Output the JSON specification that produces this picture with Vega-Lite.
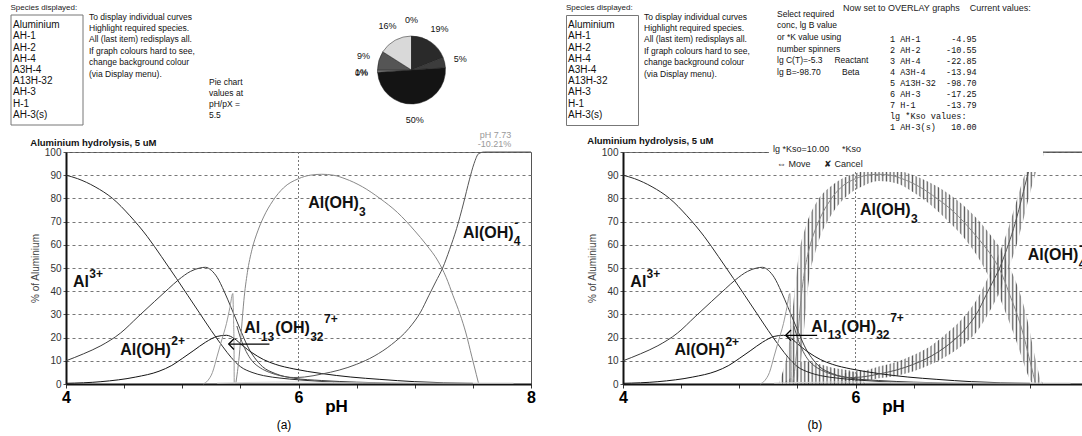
{
"$schema":"https://vega.github.io/schema/vega-lite/v6.json",
"background":"white",
"padding":{"left":10,"top":3,"right":0,"bottom":0},
"config":{"font":"Liberation Sans","view":{"stroke":null}},
"spacing":-2,
"datasets":{
"species":[{"i":0,"n":"Aluminium"},{"i":1,"n":"AH-1"},{"i":2,"n":"AH-2"},{"i":3,"n":"AH-4"},{"i":4,"n":"A3H-4"},{"i":5,"n":"A13H-32"},{"i":6,"n":"AH-3"},{"i":7,"n":"H-1"},{"i":8,"n":"AH-3(s)"}],
"vals":[{"i":0,"n":"1 AH-1\u00a0\u00a0\u00a0\u00a0\u00a0\u00a0-4.95"},{"i":1,"n":"2 AH-2\u00a0\u00a0\u00a0\u00a0\u00a0-10.55"},{"i":2,"n":"3 AH-4\u00a0\u00a0\u00a0\u00a0\u00a0-22.85"},{"i":3,"n":"4 A3H-4\u00a0\u00a0\u00a0\u00a0-13.94"},{"i":4,"n":"5 A13H-32\u00a0\u00a0-98.70"},{"i":5,"n":"6 AH-3\u00a0\u00a0\u00a0\u00a0\u00a0-17.25"},{"i":6,"n":"7 H-1\u00a0\u00a0\u00a0\u00a0\u00a0\u00a0-13.79"},{"i":7,"n":"lg *Kso values:"},{"i":8,"n":"1 AH-3(s)\u00a0\u00a0\u00a010.00"}],
"pie":[{"o":1,"k":"s19","p":19,"lab":"19%"},{"o":2,"k":"s5","p":5,"lab":"5%"},{"o":3,"k":"s50","p":50,"lab":"50%"},{"o":4,"k":"s0a","p":0,"lab":"0%"},{"o":5,"k":"s1","p":1,"lab":"1%"},{"o":6,"k":"s9","p":9,"lab":"9%"},{"o":7,"k":"s16","p":16,"lab":"16%"},{"o":8,"k":"s0b","p":0,"lab":"0%"}],
"curves":[
{"s":"al3","ph":4.0,"v":90},{"s":"al3","ph":4.1,"v":88.5},{"s":"al3","ph":4.25,"v":85},{"s":"al3","ph":4.4,"v":80},{"s":"al3","ph":4.55,"v":72.5},{"s":"al3","ph":4.7,"v":63.5},{"s":"al3","ph":4.82,"v":55},{"s":"al3","ph":4.95,"v":45.5},{"s":"al3","ph":5.05,"v":38},{"s":"al3","ph":5.15,"v":30.5},{"s":"al3","ph":5.25,"v":23},{"s":"al3","ph":5.35,"v":16},{"s":"al3","ph":5.42,"v":11.5},{"s":"al3","ph":5.5,"v":7.5},{"s":"al3","ph":5.6,"v":5},{"s":"al3","ph":5.7,"v":3.6},{"s":"al3","ph":5.85,"v":2.5},{"s":"al3","ph":6.0,"v":1.8},{"s":"al3","ph":6.3,"v":0.8},{"s":"al3","ph":6.8,"v":0.2},{"s":"al3","ph":7.5,"v":0},
{"s":"aloh","ph":4.0,"v":10},{"s":"aloh","ph":4.15,"v":13},{"s":"aloh","ph":4.3,"v":16.5},{"s":"aloh","ph":4.47,"v":22},{"s":"aloh","ph":4.62,"v":29},{"s":"aloh","ph":4.76,"v":35.5},{"s":"aloh","ph":4.88,"v":41},{"s":"aloh","ph":4.97,"v":45},{"s":"aloh","ph":5.07,"v":48.5},{"s":"aloh","ph":5.15,"v":50},{"s":"aloh","ph":5.2,"v":50.3},{"s":"aloh","ph":5.25,"v":49},{"s":"aloh","ph":5.3,"v":46},{"s":"aloh","ph":5.36,"v":40},{"s":"aloh","ph":5.42,"v":33},{"s":"aloh","ph":5.47,"v":27},{"s":"aloh","ph":5.52,"v":21},{"s":"aloh","ph":5.57,"v":15.5},{"s":"aloh","ph":5.62,"v":11.5},{"s":"aloh","ph":5.69,"v":7.5},{"s":"aloh","ph":5.8,"v":4.5},{"s":"aloh","ph":5.96,"v":2.5},{"s":"aloh","ph":6.2,"v":1.5},{"s":"aloh","ph":6.5,"v":0.8},{"s":"aloh","ph":7.0,"v":0.2},{"s":"aloh","ph":7.5,"v":0},
{"s":"aloh2","ph":4.0,"v":0.3},{"s":"aloh2","ph":4.3,"v":1},{"s":"aloh2","ph":4.6,"v":3},{"s":"aloh2","ph":4.8,"v":5.5},{"s":"aloh2","ph":4.91,"v":8},{"s":"aloh2","ph":5.0,"v":11},{"s":"aloh2","ph":5.1,"v":14.5},{"s":"aloh2","ph":5.2,"v":18},{"s":"aloh2","ph":5.3,"v":20.5},{"s":"aloh2","ph":5.38,"v":21},{"s":"aloh2","ph":5.45,"v":19.5},{"s":"aloh2","ph":5.52,"v":16.5},{"s":"aloh2","ph":5.6,"v":13.5},{"s":"aloh2","ph":5.7,"v":10.5},{"s":"aloh2","ph":5.8,"v":8.5},{"s":"aloh2","ph":5.96,"v":6.5},{"s":"aloh2","ph":6.2,"v":4.5},{"s":"aloh2","ph":6.45,"v":3},{"s":"aloh2","ph":6.7,"v":2},{"s":"aloh2","ph":7.0,"v":1},{"s":"aloh2","ph":7.5,"v":0.3},
{"s":"al13","ph":5.18,"v":0},{"s":"al13","ph":5.22,"v":1.5},{"s":"al13","ph":5.26,"v":5},{"s":"al13","ph":5.3,"v":12},{"s":"al13","ph":5.34,"v":19},{"s":"al13","ph":5.38,"v":26},{"s":"al13","ph":5.41,"v":33},{"s":"al13","ph":5.435,"v":39},{"s":"al13","ph":5.44,"v":30},{"s":"al13","ph":5.445,"v":18},{"s":"al13","ph":5.447,"v":0},
{"s":"aloh3","ph":5.46,"v":0},{"s":"aloh3","ph":5.49,"v":12},{"s":"aloh3","ph":5.51,"v":24},{"s":"aloh3","ph":5.53,"v":36},{"s":"aloh3","ph":5.56,"v":48},{"s":"aloh3","ph":5.6,"v":58},{"s":"aloh3","ph":5.65,"v":66},{"s":"aloh3","ph":5.7,"v":72},{"s":"aloh3","ph":5.78,"v":79},{"s":"aloh3","ph":5.87,"v":84.5},{"s":"aloh3","ph":6.0,"v":88.5},{"s":"aloh3","ph":6.1,"v":90},{"s":"aloh3","ph":6.2,"v":90.4},{"s":"aloh3","ph":6.3,"v":90},{"s":"aloh3","ph":6.4,"v":88.5},{"s":"aloh3","ph":6.55,"v":85},{"s":"aloh3","ph":6.7,"v":80},{"s":"aloh3","ph":6.85,"v":74},{"s":"aloh3","ph":7.0,"v":66},{"s":"aloh3","ph":7.1,"v":60},{"s":"aloh3","ph":7.2,"v":53},{"s":"aloh3","ph":7.27,"v":46},{"s":"aloh3","ph":7.33,"v":38},{"s":"aloh3","ph":7.39,"v":30},{"s":"aloh3","ph":7.44,"v":22},{"s":"aloh3","ph":7.49,"v":12},{"s":"aloh3","ph":7.53,"v":4},{"s":"aloh3","ph":7.55,"v":0},
{"s":"aloh4","ph":5.47,"v":25},{"s":"aloh4","ph":5.5,"v":20},{"s":"aloh4","ph":5.55,"v":14},{"s":"aloh4","ph":5.6,"v":10},{"s":"aloh4","ph":5.67,"v":7},{"s":"aloh4","ph":5.75,"v":5},{"s":"aloh4","ph":5.85,"v":3.5},{"s":"aloh4","ph":5.96,"v":2.8},{"s":"aloh4","ph":6.05,"v":3},{"s":"aloh4","ph":6.2,"v":4.3},{"s":"aloh4","ph":6.35,"v":6},{"s":"aloh4","ph":6.5,"v":8.5},{"s":"aloh4","ph":6.65,"v":12},{"s":"aloh4","ph":6.8,"v":17},{"s":"aloh4","ph":6.95,"v":24},{"s":"aloh4","ph":7.05,"v":31},{"s":"aloh4","ph":7.12,"v":38},{"s":"aloh4","ph":7.18,"v":44},{"s":"aloh4","ph":7.24,"v":50},{"s":"aloh4","ph":7.3,"v":58},{"s":"aloh4","ph":7.36,"v":67},{"s":"aloh4","ph":7.42,"v":78},{"s":"aloh4","ph":7.47,"v":88},{"s":"aloh4","ph":7.51,"v":95},{"s":"aloh4","ph":7.55,"v":99.3},{"s":"aloh4","ph":7.6,"v":100},{"s":"aloh4","ph":7.8,"v":100},{"s":"aloh4","ph":8.0,"v":100},
{"s":"minor","ph":5.3,"v":0.4},{"s":"minor","ph":5.6,"v":0.7},{"s":"minor","ph":6.0,"v":0.9},{"s":"minor","ph":6.3,"v":0.6},{"s":"minor","ph":7.0,"v":0.4},{"s":"minor","ph":7.85,"v":0.4}
],
"bands":[
{"b":"b3","ph":5.34,"lo":0,"hi":0},{"b":"b3","ph":5.36,"lo":0,"hi":3},{"b":"b3","ph":5.4,"lo":0,"hi":10},{"b":"b3","ph":5.44,"lo":0,"hi":22},{"b":"b3","ph":5.48,"lo":0,"hi":42},{"b":"b3","ph":5.52,"lo":5,"hi":58},{"b":"b3","ph":5.56,"lo":25,"hi":66},{"b":"b3","ph":5.6,"lo":45,"hi":72},{"b":"b3","ph":5.65,"lo":56,"hi":77},{"b":"b3","ph":5.7,"lo":64,"hi":81},{"b":"b3","ph":5.77,"lo":71,"hi":84.5},{"b":"b3","ph":5.85,"lo":77,"hi":87.5},{"b":"b3","ph":5.95,"lo":82,"hi":90},{"b":"b3","ph":6.05,"lo":85,"hi":91.5},{"b":"b3","ph":6.2,"lo":87.5,"hi":92.5},{"b":"b3","ph":6.35,"lo":86.5,"hi":92},{"b":"b3","ph":6.5,"lo":82.5,"hi":90},{"b":"b3","ph":6.65,"lo":77,"hi":86.5},{"b":"b3","ph":6.8,"lo":70,"hi":82},{"b":"b3","ph":6.95,"lo":62,"hi":76},{"b":"b3","ph":7.05,"lo":55,"hi":71},{"b":"b3","ph":7.15,"lo":46,"hi":65},{"b":"b3","ph":7.25,"lo":36,"hi":58},{"b":"b3","ph":7.32,"lo":27,"hi":51},{"b":"b3","ph":7.38,"lo":19,"hi":44},{"b":"b3","ph":7.44,"lo":10,"hi":35},{"b":"b3","ph":7.49,"lo":3,"hi":25},{"b":"b3","ph":7.53,"lo":0,"hi":15},{"b":"b3","ph":7.57,"lo":0,"hi":6},{"b":"b3","ph":7.6,"lo":0,"hi":1},{"b":"b3","ph":7.64,"lo":0,"hi":0},
{"b":"b4","ph":5.34,"lo":0,"hi":0},{"b":"b4","ph":5.85,"lo":0,"hi":0},{"b":"b4","ph":5.9,"lo":0.5,"hi":4.5},{"b":"b4","ph":6.0,"lo":1,"hi":5.5},{"b":"b4","ph":6.1,"lo":1.5,"hi":6},{"b":"b4","ph":6.2,"lo":2.5,"hi":7.5},{"b":"b4","ph":6.35,"lo":3.5,"hi":9.5},{"b":"b4","ph":6.5,"lo":5.5,"hi":12.5},{"b":"b4","ph":6.65,"lo":8.5,"hi":16.5},{"b":"b4","ph":6.8,"lo":12.5,"hi":22.5},{"b":"b4","ph":6.95,"lo":18,"hi":30},{"b":"b4","ph":7.05,"lo":23,"hi":37},{"b":"b4","ph":7.15,"lo":31,"hi":47},{"b":"b4","ph":7.25,"lo":41,"hi":58},{"b":"b4","ph":7.32,"lo":50,"hi":68},{"b":"b4","ph":7.38,"lo":59,"hi":78},{"b":"b4","ph":7.44,"lo":70,"hi":88},{"b":"b4","ph":7.5,"lo":82,"hi":96},{"b":"b4","ph":7.55,"lo":91,"hi":100},{"b":"b4","ph":7.6,"lo":97,"hi":100},{"b":"b4","ph":7.64,"lo":100,"hi":100},
{"b":"bl","ph":5.34,"lo":0,"hi":0},{"b":"bl","ph":5.45,"lo":0,"hi":3},{"b":"bl","ph":5.55,"lo":0,"hi":10},{"b":"bl","ph":5.65,"lo":0,"hi":9},{"b":"bl","ph":5.8,"lo":0,"hi":7},{"b":"bl","ph":6.0,"lo":0,"hi":5},{"b":"bl","ph":6.1,"lo":0,"hi":0},{"b":"bl","ph":7.64,"lo":0,"hi":0}
],
"labs":[
{"p":"a","k":"main","ph":4.06,"v":41.8,"t":"Al"},{"p":"a","k":"sup","ph":4.2,"v":45.8,"t":"3+"},
{"p":"a","k":"main","ph":4.467,"v":12.4,"t":"Al(OH)"},{"p":"a","k":"sup","ph":4.905,"v":16.7,"t":"2+"},
{"p":"a","k":"main","ph":6.083,"v":75.7,"t":"Al(OH)"},{"p":"a","k":"sub","ph":6.52,"v":72.3,"t":"3"},
{"p":"a","k":"main","ph":7.414,"v":63,"t":"Al(OH)"},{"p":"a","k":"sub","ph":7.852,"v":59.7,"t":"4"},{"p":"a","k":"sup","ph":7.855,"v":67.5,"t":"-"},
{"p":"a","k":"main","ph":5.533,"v":22,"t":"Al"},{"p":"a","k":"sub","ph":5.675,"v":18.7,"t":"13"},{"p":"a","k":"main","ph":5.8,"v":22,"t":"(OH)"},{"p":"a","k":"sub","ph":6.1,"v":18.7,"t":"32"},{"p":"a","k":"sup","ph":6.22,"v":26.5,"t":"7+"},
{"p":"b","k":"main","ph":4.063,"v":41.9,"t":"Al"},{"p":"b","k":"sup","ph":4.203,"v":45.8,"t":"3+"},
{"p":"b","k":"main","ph":4.443,"v":12.5,"t":"Al(OH)"},{"p":"b","k":"sup","ph":4.881,"v":16.5,"t":"2+"},
{"p":"b","k":"main","ph":6.039,"v":72.7,"t":"Al(OH)"},{"p":"b","k":"sub","ph":6.477,"v":69.4,"t":"3"},
{"p":"b","k":"main","ph":7.482,"v":53.4,"t":"Al(OH)"},{"p":"b","k":"sub","ph":7.92,"v":50,"t":"4"},{"p":"b","k":"sup","ph":7.922,"v":57.8,"t":"-"},
{"p":"b","k":"main","ph":5.62,"v":22.5,"t":"Al"},{"p":"b","k":"sub","ph":5.762,"v":19.2,"t":"13"},{"p":"b","k":"main","ph":5.878,"v":22.5,"t":"(OH)"},{"p":"b","k":"sub","ph":6.178,"v":19.2,"t":"32"},{"p":"b","k":"sup","ph":6.298,"v":26.8,"t":"7+"}
],
"arrows":[
{"p":"a","g":"s","o":0,"ph":5.75,"v":17.2},{"p":"a","g":"s","o":1,"ph":5.4,"v":17.2},
{"p":"a","g":"h","o":0,"ph":5.445,"v":19.5},{"p":"a","g":"h","o":1,"ph":5.4,"v":17.2},{"p":"a","g":"h","o":2,"ph":5.445,"v":14.9},
{"p":"b","g":"s","o":0,"ph":5.67,"v":21},{"p":"b","g":"s","o":1,"ph":5.4,"v":21},
{"p":"b","g":"h","o":0,"ph":5.445,"v":23.3},{"p":"b","g":"h","o":1,"ph":5.4,"v":21},{"p":"b","g":"h","o":2,"ph":5.445,"v":18.7}
],
"notes":[
{"p":"a","k":"cap","ph":5.875,"v":-17.7,"t":"(a)"},{"p":"b","k":"cap","ph":5.65,"v":-17.7,"t":"(b)"},
{"p":"a","k":"read","ph":7.83,"v":107.3,"t":"pH 7.73"},{"p":"a","k":"read","ph":7.83,"v":103.3,"t":"-10.21%"}
],
"dlg":[{"ph":5.29,"v":101.3,"t":"lg *Kso=10.00"},{"ph":5.884,"v":101.3,"t":"*Kso"},{"ph":5.325,"v":94.8,"t":"\u21d4 Move"},{"ph":5.73,"v":94.8,"t":"\u2718 Cancel"}]
},
"vconcat":[
{"spacing":0,"bounds":"flush","hconcat":[
 {"width":17,"height":110,"title":{"text":"Species displayed:","fontSize":8,"fontWeight":"normal","anchor":"start","offset":3,"color":"#222"},
  "layer":[
   {"data":{"values":[{"r":1}]},"mark":{"type":"rect","fill":null,"stroke":"#777","strokeWidth":1},
    "encoding":{"x":{"datum":-3.235,"type":"quantitative","scale":{"domain":[0,1]},"axis":null},"x2":{"datum":1},"y":{"datum":0,"type":"quantitative","scale":{"domain":[0,1]},"axis":null},"y2":{"datum":1}}},
   {"data":{"name":"species"},"mark":{"type":"text","align":"left","baseline":"middle","fontSize":10,"dx":-53,"color":"#111"},
    "encoding":{"x":{"datum":0,"type":"quantitative"},"y":{"field":"i","type":"ordinal","axis":null,"scale":{"padding":0.9}},"text":{"field":"n"}}}
  ],
  "resolve":{"scale":{"y":"independent"}}},
 {"width":124,"height":110,"data":{"values":[{"t":"To display individual curves\nHighlight required species.\nAll (last item) redisplays all.\n\u00a0\nIf graph colours hard to see,\nchange background colour\n(via Display menu)."}]},
  "mark":{"type":"text","align":"left","baseline":"top","lineBreak":"\n","lineHeight":11.4,"fontSize":8.5,"dx":6,"dy":-2.5,"color":"#111"},
  "encoding":{"x":{"datum":0,"type":"quantitative","scale":{"domain":[0,1]},"axis":null},"y":{"datum":1,"type":"quantitative","scale":{"domain":[0,1]},"axis":null},"text":{"field":"t"}}},
 {"width":50,"height":110,"data":{"values":[{"t":"Pie chart\nvalues at\npH/pX =\n\u00a0\u00a0\u00a0\u00a05.5"}]},
  "mark":{"type":"text","align":"left","baseline":"top","lineBreak":"\n","lineHeight":11,"fontSize":8.5,"dx":2,"dy":62.5,"color":"#111"},
  "encoding":{"x":{"datum":0,"type":"quantitative","scale":{"domain":[0,1]},"axis":null},"y":{"datum":1,"type":"quantitative","scale":{"domain":[0,1]},"axis":null},"text":{"field":"t"}}},
 {"width":309,"height":110,"data":{"name":"pie"},
  "encoding":{"theta":{"field":"p","type":"quantitative","stack":true},"order":{"field":"o"}},
  "layer":[
   {"mark":{"type":"arc","outerRadius":34,"stroke":"#222","strokeWidth":0.5},
    "encoding":{"color":{"field":"k","type":"nominal","scale":{"domain":["s19","s5","s50","s0a","s1","s9","s16","s0b"],"range":["#2a2a2a","#3c3c3c","#141414","#999","#888","#555","#d9d9d9","#777"]},"legend":null}}},
   {"mark":{"type":"text","radius":50,"fontSize":9,"color":"#111"},"encoding":{"text":{"field":"lab"}}}
  ]},
 {"width":72,"height":110,"title":{"text":"Species displayed:","fontSize":8,"fontWeight":"normal","anchor":"start","offset":3,"color":"#222"},"view":{"stroke":"#777"},"data":{"name":"species"},
  "mark":{"type":"text","align":"left","baseline":"middle","fontSize":10,"dx":2,"color":"#111"},
  "encoding":{"x":{"datum":0,"type":"quantitative","scale":{"domain":[0,1]},"axis":null},"y":{"field":"i","type":"ordinal","axis":null,"scale":{"padding":0.9}},"text":{"field":"n"}}},
 {"width":135,"height":110,"data":{"values":[{"t":"To display individual curves\nHighlight required species.\nAll (last item) redisplays all.\n\u00a0\nIf graph colours hard to see,\nchange background colour\n(via Display menu)."}]},
  "mark":{"type":"text","align":"left","baseline":"top","lineBreak":"\n","lineHeight":11.4,"fontSize":8.5,"dx":6,"dy":-2.5,"color":"#111"},
  "encoding":{"x":{"datum":0,"type":"quantitative","scale":{"domain":[0,1]},"axis":null},"y":{"datum":1,"type":"quantitative","scale":{"domain":[0,1]},"axis":null},"text":{"field":"t"}}},
 {"width":113,"height":110,"data":{"values":[{"t":"Select required\nconc, lg B value\nor *K value using\nnumber spinners\n\u00a0\n\u00a0\nlg C(T)=-5.3\u00a0\u00a0\u00a0\u00a0\u00a0Reactant\n\u00a0\n\u00a0\nlg B=-98.70\u00a0\u00a0\u00a0\u00a0\u00a0\u00a0\u00a0\u00a0\u00a0Beta"}]},
  "mark":{"type":"text","align":"left","baseline":"top","lineBreak":"\n","lineHeight":11.7,"fontSize":8.5,"dx":4,"dy":-5.5,"color":"#111"},
  "encoding":{"x":{"datum":0,"type":"quantitative","scale":{"domain":[0,1]},"axis":null},"y":{"datum":1,"type":"quantitative","scale":{"domain":[0,1]},"axis":null},"text":{"field":"t"}}},
 {"width":155,"height":110,"title":{"text":"Now set to OVERLAY graphs\u00a0\u00a0\u00a0\u00a0Current values:","fontSize":9,"fontWeight":"normal","anchor":"start","dx":-43,"offset":2,"color":"#222"},"data":{"name":"vals"},
  "mark":{"type":"text","align":"left","baseline":"middle","font":"Liberation Mono","fontSize":8.5,"dx":4,"dy":13,"color":"#111"},
  "encoding":{"x":{"datum":0,"type":"quantitative","scale":{"domain":[0,1]},"axis":null},"y":{"field":"i","type":"ordinal","axis":null,"scale":{"padding":1}},"text":{"field":"n"}}}
]},
{"spacing":50,"hconcat":[
 {"width":465,"height":232,
  "title":{"text":"Aluminium hydrolysis, 5 uM","anchor":"start","fontSize":9.5,"fontWeight":"bold","offset":-16,"color":"#111"},
  "view":{"stroke":"#555"},
  "layer":[
   {"data":{"values":[{"r":1}]},"mark":{"type":"rule","color":"#777","strokeDash":[2,2],"strokeWidth":1},
    "encoding":{"x":{"datum":6,"type":"quantitative","scale":{"domain":[4,8],"nice":false,"zero":false},
      "axis":{"values":[4,4.5,5,5.5,6,6.5,7,7.5,8],"tickCount":12,"labelExpr":"datum.value % 2 === 0 ? format(datum.value, 'd') : ''","labelFontSize":16,"labelFontWeight":"bold","labelColor":"#000","labelFlush":false,"labelOverlap":false,"labelPadding":1,"tickSize":4,"tickColor":"#333","domainColor":"#111","domainWidth":2,"grid":false,"title":"pH","titleFontSize":17,"titleFontWeight":"bold","titleColor":"#000","titleX":270,"titleY":27,"titleBaseline":"alphabetic"}}}},
   {"data":{"name":"curves"},"mark":{"type":"line","interpolate":"monotone"},
    "encoding":{
     "x":{"field":"ph","type":"quantitative"},
     "y":{"field":"v","type":"quantitative","scale":{"domain":[0,100],"nice":false},
      "axis":{"values":[0,10,20,30,40,50,60,70,80,90,100],"tickCount":12,"labelOverlap":false,"labelFontSize":10,"labelColor":"#333","tickSize":3,"tickColor":"#555","labelPadding":2,"domainColor":"#111","domainWidth":2,"grid":true,"gridColor":"#777","gridDash":[3,3],"title":"% of Aluminium","titleFontSize":10,"titleFontWeight":"normal","titleColor":"#444","titlePadding":4}},
     "color":{"field":"s","type":"nominal","scale":{"domain":["al3","aloh","aloh2","al13","aloh3","aloh4","minor"],"range":["#333","#444","#bdbdbd","#555","#222","#222","#222"]},"legend":null},
     "strokeWidth":{"field":"s","type":"nominal","scale":{"domain":["al3","aloh","aloh2","al13","aloh3","aloh4","minor"],"range":[1,1,1.2,1,1,1,2]},"legend":null}}},
   {"data":{"name":"labs"},"transform":[{"filter":"datum.p === 'a' && datum.k === 'main'"}],
    "mark":{"type":"text","align":"left","baseline":"alphabetic","fontSize":16,"fontWeight":"bold","color":"#111"},
    "encoding":{"x":{"field":"ph","type":"quantitative"},"y":{"field":"v","type":"quantitative"},"text":{"field":"t"}}},
   {"data":{"name":"labs"},"transform":[{"filter":"datum.p === 'a' && datum.k !== 'main'"}],
    "mark":{"type":"text","align":"left","baseline":"alphabetic","fontSize":12,"fontWeight":"bold","color":"#111"},
    "encoding":{"x":{"field":"ph","type":"quantitative"},"y":{"field":"v","type":"quantitative"},"text":{"field":"t"}}},
   {"data":{"name":"arrows"},"transform":[{"filter":"datum.p === 'a'"}],
    "mark":{"type":"line","color":"#000","strokeWidth":1.3},
    "encoding":{"x":{"field":"ph","type":"quantitative"},"y":{"field":"v","type":"quantitative"},"detail":{"field":"g"},"order":{"field":"o"}}},
   {"data":{"name":"notes"},"transform":[{"filter":"datum.p === 'a' && datum.k === 'cap'"}],
    "mark":{"type":"text","fontSize":12,"color":"#000"},
    "encoding":{"x":{"field":"ph","type":"quantitative"},"y":{"field":"v","type":"quantitative"},"text":{"field":"t"}}},
   {"data":{"name":"notes"},"transform":[{"filter":"datum.p === 'a' && datum.k === 'read'"}],
    "mark":{"type":"text","fontSize":9,"align":"right","color":"#999"},
    "encoding":{"x":{"field":"ph","type":"quantitative"},"y":{"field":"v","type":"quantitative"},"text":{"field":"t"}}}
  ]},
 {"width":465,"height":232,
  "title":{"text":"Aluminium hydrolysis, 5 uM","anchor":"start","fontSize":9.5,"fontWeight":"bold","offset":-10,"color":"#111"},
  "view":{"stroke":"#555"},
  "layer":[
   {"data":{"values":[{"r":1}]},"mark":{"type":"rule","color":"#777","strokeDash":[2,2],"strokeWidth":1},
    "encoding":{"x":{"datum":6,"type":"quantitative","scale":{"domain":[4,8],"nice":false,"zero":false},
      "axis":{"values":[4,4.5,5,5.5,6,6.5,7,7.5,8],"tickCount":12,"labelExpr":"datum.value % 2 === 0 ? format(datum.value, 'd') : ''","labelFontSize":16,"labelFontWeight":"bold","labelColor":"#000","labelFlush":false,"labelOverlap":false,"labelPadding":1,"tickSize":4,"tickColor":"#333","domainColor":"#111","domainWidth":2,"grid":false,"title":"pH","titleFontSize":17,"titleFontWeight":"bold","titleColor":"#000","titleX":270,"titleY":27,"titleBaseline":"alphabetic"}}}},
   {"data":{"name":"bands"},
    "mark":{"type":"area","interpolate":"monotone","fill":{"x1":0,"y1":0,"x2":1,"y2":0,"gradient":"linear","stops":[
{"offset":0,"color":"#444"},{"offset":0.0069,"color":"rgba(255,255,255,0)"},{"offset":0.0139,"color":"#444"},{"offset":0.0208,"color":"rgba(255,255,255,0)"},{"offset":0.0278,"color":"#444"},{"offset":0.0347,"color":"rgba(255,255,255,0)"},{"offset":0.0417,"color":"#444"},{"offset":0.0486,"color":"rgba(255,255,255,0)"},{"offset":0.0556,"color":"#444"},{"offset":0.0625,"color":"rgba(255,255,255,0)"},{"offset":0.0694,"color":"#444"},{"offset":0.0764,"color":"rgba(255,255,255,0)"},{"offset":0.0833,"color":"#444"},{"offset":0.0903,"color":"rgba(255,255,255,0)"},{"offset":0.0972,"color":"#444"},{"offset":0.1042,"color":"rgba(255,255,255,0)"},{"offset":0.1111,"color":"#444"},{"offset":0.1181,"color":"rgba(255,255,255,0)"},{"offset":0.125,"color":"#444"},{"offset":0.1319,"color":"rgba(255,255,255,0)"},{"offset":0.1389,"color":"#444"},{"offset":0.1458,"color":"rgba(255,255,255,0)"},{"offset":0.1528,"color":"#444"},{"offset":0.1597,"color":"rgba(255,255,255,0)"},{"offset":0.1667,"color":"#444"},{"offset":0.1736,"color":"rgba(255,255,255,0)"},{"offset":0.1806,"color":"#444"},{"offset":0.1875,"color":"rgba(255,255,255,0)"},{"offset":0.1944,"color":"#444"},{"offset":0.2014,"color":"rgba(255,255,255,0)"},{"offset":0.2083,"color":"#444"},{"offset":0.2153,"color":"rgba(255,255,255,0)"},{"offset":0.2222,"color":"#444"},{"offset":0.2292,"color":"rgba(255,255,255,0)"},{"offset":0.2361,"color":"#444"},{"offset":0.2431,"color":"rgba(255,255,255,0)"},{"offset":0.25,"color":"#444"},{"offset":0.2569,"color":"rgba(255,255,255,0)"},{"offset":0.2639,"color":"#444"},{"offset":0.2708,"color":"rgba(255,255,255,0)"},{"offset":0.2778,"color":"#444"},{"offset":0.2847,"color":"rgba(255,255,255,0)"},{"offset":0.2917,"color":"#444"},{"offset":0.2986,"color":"rgba(255,255,255,0)"},{"offset":0.3056,"color":"#444"},{"offset":0.3125,"color":"rgba(255,255,255,0)"},{"offset":0.3194,"color":"#444"},{"offset":0.3264,"color":"rgba(255,255,255,0)"},{"offset":0.3333,"color":"#444"},{"offset":0.3403,"color":"rgba(255,255,255,0)"},{"offset":0.3472,"color":"#444"},{"offset":0.3542,"color":"rgba(255,255,255,0)"},{"offset":0.3611,"color":"#444"},{"offset":0.3681,"color":"rgba(255,255,255,0)"},{"offset":0.375,"color":"#444"},{"offset":0.3819,"color":"rgba(255,255,255,0)"},{"offset":0.3889,"color":"#444"},{"offset":0.3958,"color":"rgba(255,255,255,0)"},{"offset":0.4028,"color":"#444"},{"offset":0.4097,"color":"rgba(255,255,255,0)"},{"offset":0.4167,"color":"#444"},{"offset":0.4236,"color":"rgba(255,255,255,0)"},{"offset":0.4306,"color":"#444"},{"offset":0.4375,"color":"rgba(255,255,255,0)"},{"offset":0.4444,"color":"#444"},{"offset":0.4514,"color":"rgba(255,255,255,0)"},{"offset":0.4583,"color":"#444"},{"offset":0.4653,"color":"rgba(255,255,255,0)"},{"offset":0.4722,"color":"#444"},{"offset":0.4792,"color":"rgba(255,255,255,0)"},{"offset":0.4861,"color":"#444"},{"offset":0.4931,"color":"rgba(255,255,255,0)"},{"offset":0.5,"color":"#444"},{"offset":0.5069,"color":"rgba(255,255,255,0)"},{"offset":0.5139,"color":"#444"},{"offset":0.5208,"color":"rgba(255,255,255,0)"},{"offset":0.5278,"color":"#444"},{"offset":0.5347,"color":"rgba(255,255,255,0)"},{"offset":0.5417,"color":"#444"},{"offset":0.5486,"color":"rgba(255,255,255,0)"},{"offset":0.5556,"color":"#444"},{"offset":0.5625,"color":"rgba(255,255,255,0)"},{"offset":0.5694,"color":"#444"},{"offset":0.5764,"color":"rgba(255,255,255,0)"},{"offset":0.5833,"color":"#444"},{"offset":0.5903,"color":"rgba(255,255,255,0)"},{"offset":0.5972,"color":"#444"},{"offset":0.6042,"color":"rgba(255,255,255,0)"},{"offset":0.6111,"color":"#444"},{"offset":0.6181,"color":"rgba(255,255,255,0)"},{"offset":0.625,"color":"#444"},{"offset":0.6319,"color":"rgba(255,255,255,0)"},{"offset":0.6389,"color":"#444"},{"offset":0.6458,"color":"rgba(255,255,255,0)"},{"offset":0.6528,"color":"#444"},{"offset":0.6597,"color":"rgba(255,255,255,0)"},{"offset":0.6667,"color":"#444"},{"offset":0.6736,"color":"rgba(255,255,255,0)"},{"offset":0.6806,"color":"#444"},{"offset":0.6875,"color":"rgba(255,255,255,0)"},{"offset":0.6944,"color":"#444"},{"offset":0.7014,"color":"rgba(255,255,255,0)"},{"offset":0.7083,"color":"#444"},{"offset":0.7153,"color":"rgba(255,255,255,0)"},{"offset":0.7222,"color":"#444"},{"offset":0.7292,"color":"rgba(255,255,255,0)"},{"offset":0.7361,"color":"#444"},{"offset":0.7431,"color":"rgba(255,255,255,0)"},{"offset":0.75,"color":"#444"},{"offset":0.7569,"color":"rgba(255,255,255,0)"},{"offset":0.7639,"color":"#444"},{"offset":0.7708,"color":"rgba(255,255,255,0)"},{"offset":0.7778,"color":"#444"},{"offset":0.7847,"color":"rgba(255,255,255,0)"},{"offset":0.7917,"color":"#444"},{"offset":0.7986,"color":"rgba(255,255,255,0)"},{"offset":0.8056,"color":"#444"},{"offset":0.8125,"color":"rgba(255,255,255,0)"},{"offset":0.8194,"color":"#444"},{"offset":0.8264,"color":"rgba(255,255,255,0)"},{"offset":0.8333,"color":"#444"},{"offset":0.8403,"color":"rgba(255,255,255,0)"},{"offset":0.8472,"color":"#444"},{"offset":0.8542,"color":"rgba(255,255,255,0)"},{"offset":0.8611,"color":"#444"},{"offset":0.8681,"color":"rgba(255,255,255,0)"},{"offset":0.875,"color":"#444"},{"offset":0.8819,"color":"rgba(255,255,255,0)"},{"offset":0.8889,"color":"#444"},{"offset":0.8958,"color":"rgba(255,255,255,0)"},{"offset":0.9028,"color":"#444"},{"offset":0.9097,"color":"rgba(255,255,255,0)"},{"offset":0.9167,"color":"#444"},{"offset":0.9236,"color":"rgba(255,255,255,0)"},{"offset":0.9306,"color":"#444"},{"offset":0.9375,"color":"rgba(255,255,255,0)"},{"offset":0.9444,"color":"#444"},{"offset":0.9514,"color":"rgba(255,255,255,0)"},{"offset":0.9583,"color":"#444"},{"offset":0.9653,"color":"rgba(255,255,255,0)"},{"offset":0.9722,"color":"#444"},{"offset":0.9792,"color":"rgba(255,255,255,0)"},{"offset":0.9861,"color":"#444"},{"offset":0.9931,"color":"rgba(255,255,255,0)"},{"offset":1,"color":"#444"}]}},
    "encoding":{"x":{"field":"ph","type":"quantitative"},
     "y":{"field":"lo","type":"quantitative","scale":{"domain":[0,100],"nice":false},
      "axis":{"values":[0,10,20,30,40,50,60,70,80,90,100],"tickCount":12,"labelOverlap":false,"labelFontSize":10,"labelColor":"#333","tickSize":3,"tickColor":"#555","labelPadding":2,"domainColor":"#111","domainWidth":2,"grid":true,"gridColor":"#777","gridDash":[3,3],"title":"% of Aluminium","titleFontSize":10,"titleFontWeight":"normal","titleColor":"#444","titlePadding":4}},
     "y2":{"field":"hi"},"detail":{"field":"b"},
     "fillOpacity":{"field":"b","type":"nominal","scale":{"domain":["b3","b4","bl"],"range":[0.9,0.9,0.35]},"legend":null}}},
   {"data":{"name":"curves"},"mark":{"type":"line","interpolate":"monotone"},
    "encoding":{"x":{"field":"ph","type":"quantitative"},"y":{"field":"v","type":"quantitative"},
     "color":{"field":"s","type":"nominal","scale":{"domain":["al3","aloh","aloh2","al13","aloh3","aloh4","minor"],"range":["#333","#444","#bdbdbd","#555","#222","#222","#222"]},"legend":null},
     "strokeWidth":{"field":"s","type":"nominal","scale":{"domain":["al3","aloh","aloh2","al13","aloh3","aloh4","minor"],"range":[1,1,1.2,1,1,1,2]},"legend":null}}},
   {"data":{"name":"labs"},"transform":[{"filter":"datum.p === 'b' && datum.k === 'main'"}],
    "mark":{"type":"text","align":"left","baseline":"alphabetic","fontSize":16,"fontWeight":"bold","color":"#111"},
    "encoding":{"x":{"field":"ph","type":"quantitative"},"y":{"field":"v","type":"quantitative"},"text":{"field":"t"}}},
   {"data":{"name":"labs"},"transform":[{"filter":"datum.p === 'b' && datum.k !== 'main'"}],
    "mark":{"type":"text","align":"left","baseline":"alphabetic","fontSize":12,"fontWeight":"bold","color":"#111"},
    "encoding":{"x":{"field":"ph","type":"quantitative"},"y":{"field":"v","type":"quantitative"},"text":{"field":"t"}}},
   {"data":{"name":"arrows"},"transform":[{"filter":"datum.p === 'b'"}],
    "mark":{"type":"line","color":"#000","strokeWidth":1.3},
    "encoding":{"x":{"field":"ph","type":"quantitative"},"y":{"field":"v","type":"quantitative"},"detail":{"field":"g"},"order":{"field":"o"}}},
   {"data":{"values":[{"r":1}]},"mark":{"type":"rect","fill":"white"},
    "encoding":{"x":{"datum":5.256,"type":"quantitative"},"x2":{"datum":7.613},"y":{"datum":91.4,"type":"quantitative"},"y2":{"datum":107}}},
   {"data":{"name":"dlg"},"mark":{"type":"text","align":"left","fontSize":9,"color":"#222"},
    "encoding":{"x":{"field":"ph","type":"quantitative"},"y":{"field":"v","type":"quantitative"},"text":{"field":"t"}}},
   {"data":{"name":"notes"},"transform":[{"filter":"datum.p === 'b' && datum.k === 'cap'"}],
    "mark":{"type":"text","fontSize":12,"color":"#000"},
    "encoding":{"x":{"field":"ph","type":"quantitative"},"y":{"field":"v","type":"quantitative"},"text":{"field":"t"}}}
  ]}
]}
]
}
